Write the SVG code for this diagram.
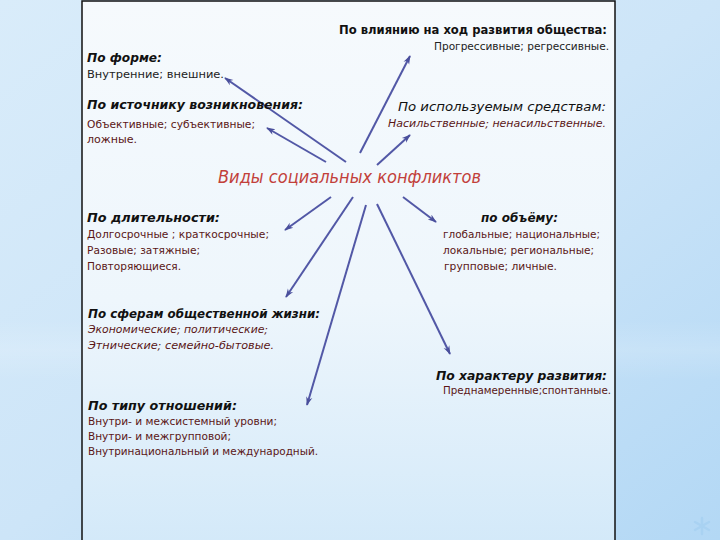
<svg xmlns="http://www.w3.org/2000/svg" width="720" height="540" viewBox="0 0 720 540">
<defs>
<linearGradient id="bg" x1="0" y1="0" x2="1" y2="1">
<stop offset="0" stop-color="#d9ecfa"/>
<stop offset="0.5" stop-color="#cde5f8"/>
<stop offset="1" stop-color="#b3d8f5"/>
</linearGradient>
<linearGradient id="panel" x1="0" y1="0" x2="0" y2="1">
<stop offset="0" stop-color="#f6fafd"/>
<stop offset="0.55" stop-color="#eef6fc"/>
<stop offset="1" stop-color="#d3e9f9"/>
</linearGradient>
<linearGradient id="band" x1="0" y1="0" x2="0" y2="1">
<stop offset="0" stop-color="#ffffff" stop-opacity="0"/>
<stop offset="0.5" stop-color="#ffffff" stop-opacity="0.15"/>
<stop offset="1" stop-color="#ffffff" stop-opacity="0"/>
</linearGradient>
<marker id="ah" viewBox="0 0 10 10" refX="9" refY="5" markerWidth="4.5" markerHeight="4.5" orient="auto" markerUnits="strokeWidth">
<path d="M0,1.5 L10,5 L0,8.5 L3,5 z" fill="#4a4f9c"/>
</marker>
<style>
text{font-family:"DejaVu Sans","Liberation Sans",sans-serif}
.h{font-size:13px;font-weight:bold;font-style:italic;fill:#111}
.hi{font-size:13px;font-style:italic;fill:#111}
.t{font-size:10.5px;fill:#222}
.r{font-size:10.5px;fill:#5a1616}
.ri{font-size:10.5px;font-style:italic;fill:#5a1616}
.title{font-size:17px;font-style:italic;fill:#c2403a}
.c line{stroke:#5258a6;stroke-width:2;marker-end:url(#ah)}
</style>
</defs>
<rect x="0" y="0" width="720" height="540" fill="url(#bg)"/>
<rect x="0" y="320" width="720" height="60" fill="url(#band)"/>
<rect x="82" y="1" width="533" height="545" fill="url(#panel)" stroke="#111" stroke-width="1.5"/>
<g id="star" stroke="#a9d2f2" stroke-width="2.5" stroke-linecap="round">
<line x1="702" y1="518" x2="702" y2="534"/>
<line x1="695" y1="522" x2="709" y2="530"/>
<line x1="695" y1="530" x2="709" y2="522"/>
</g>
<g class="c" id="connectors">
<line x1="346" y1="162" x2="225" y2="78"/>
<line x1="326" y1="162" x2="267" y2="128"/>
<line x1="360" y1="153" x2="410" y2="56"/>
<line x1="377" y1="165" x2="410" y2="135"/>
<line x1="331" y1="197" x2="285" y2="230"/>
<line x1="353" y1="197" x2="286" y2="297"/>
<line x1="366" y1="205" x2="307" y2="405"/>
<line x1="377" y1="204" x2="450" y2="354"/>
<line x1="403" y1="197" x2="436" y2="222"/>
</g>
<g id="title"><text class="title" x="218" y="183" textLength="263" lengthAdjust="spacingAndGlyphs">Виды социальных конфликтов</text></g>
<g id="n-influence">
<text class="h" x="607" y="34" text-anchor="end" style="font-style:normal" textLength="268" lengthAdjust="spacingAndGlyphs">По влиянию на ход развития общества:</text>
<text class="t" x="609" y="50" text-anchor="end" textLength="175" lengthAdjust="spacingAndGlyphs">Прогрессивные; регрессивные.</text>
</g>
<g id="n-form">
<text class="h" x="87" y="62" textLength="75" lengthAdjust="spacingAndGlyphs">По форме:</text>
<text class="t" x="87" y="78" textLength="137" lengthAdjust="spacingAndGlyphs">Внутренние; внешние.</text>
</g>
<g id="n-source">
<text class="h" x="87" y="109" textLength="216" lengthAdjust="spacingAndGlyphs">По источнику возникновения:</text>
<text class="r" x="87" y="128" textLength="168" lengthAdjust="spacingAndGlyphs">Объективные; субъективные;</text>
<text class="r" x="87" y="143" textLength="50" lengthAdjust="spacingAndGlyphs">ложные.</text>
</g>
<g id="n-means">
<text class="hi" x="606" y="111" text-anchor="end" textLength="208" lengthAdjust="spacingAndGlyphs">По используемым средствам:</text>
<text class="ri" x="606" y="127" text-anchor="end" textLength="218" lengthAdjust="spacingAndGlyphs">Насильственные; ненасильственные.</text>
</g>
<g id="n-duration">
<text class="h" x="87" y="222" textLength="133" lengthAdjust="spacingAndGlyphs">По длительности:</text>
<text class="r" x="87" y="238" textLength="182" lengthAdjust="spacingAndGlyphs">Долгосрочные ; краткосрочные;</text>
<text class="r" x="87" y="254" textLength="113" lengthAdjust="spacingAndGlyphs">Разовые; затяжные;</text>
<text class="r" x="87" y="270" textLength="94" lengthAdjust="spacingAndGlyphs">Повторяющиеся.</text>
</g>
<g id="n-volume">
<text class="h" x="481" y="222" textLength="77" lengthAdjust="spacingAndGlyphs">по объёму:</text>
<text class="r" x="443" y="238" textLength="157" lengthAdjust="spacingAndGlyphs">глобальные; национальные;</text>
<text class="r" x="443" y="254" textLength="151" lengthAdjust="spacingAndGlyphs">локальные; региональные;</text>
<text class="r" x="444" y="270" textLength="113" lengthAdjust="spacingAndGlyphs">групповые; личные.</text>
</g>
<g id="n-spheres">
<text class="h" x="88" y="318" textLength="232" lengthAdjust="spacingAndGlyphs">По сферам общественной жизни:</text>
<text class="ri" x="88" y="333" textLength="180" lengthAdjust="spacingAndGlyphs">Экономические; политические;</text>
<text class="ri" x="88" y="349" textLength="186" lengthAdjust="spacingAndGlyphs">Этнические; семейно-бытовые.</text>
</g>
<g id="n-character">
<text class="h" x="607" y="380" text-anchor="end" textLength="171" lengthAdjust="spacingAndGlyphs">По характеру развития:</text>
<text class="r" x="611" y="394" text-anchor="end" textLength="168" lengthAdjust="spacingAndGlyphs">Преднамеренные;спонтанные.</text>
</g>
<g id="n-relations">
<text class="h" x="88" y="410" textLength="149" lengthAdjust="spacingAndGlyphs">По типу отношений:</text>
<text class="r" x="88" y="425" textLength="189" lengthAdjust="spacingAndGlyphs">Внутри- и межсистемный уровни;</text>
<text class="r" x="88" y="440" textLength="143" lengthAdjust="spacingAndGlyphs">Внутри- и межгрупповой;</text>
<text class="r" x="88" y="455" textLength="230" lengthAdjust="spacingAndGlyphs">Внутринациональный и международный.</text>
</g>
</svg>
